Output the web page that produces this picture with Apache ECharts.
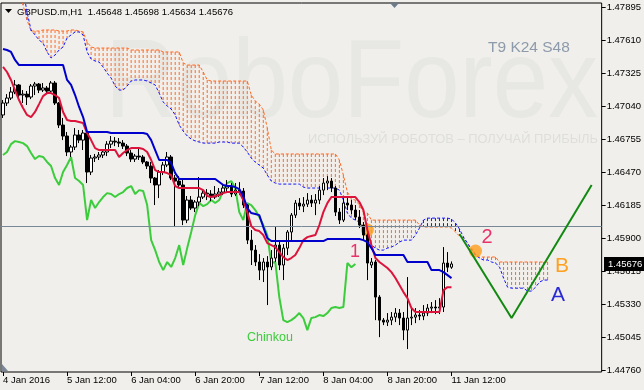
<!DOCTYPE html>
<html><head><meta charset="utf-8">
<script src="https://cdn.jsdelivr.net/npm/echarts@6/dist/echarts.min.js"></script>
<style>html,body{margin:0;padding:0;background:#f0efeb;}#c{width:644px;height:390px;}</style>
</head><body><div id="c"></div>
<script>
// ---- data (GBPUSD.m H1) ----
const xLabels = ['4 Jan 2016','5 Jan 12:00','6 Jan 04:00','6 Jan 20:00','7 Jan 12:00','8 Jan 04:00','8 Jan 20:00','11 Jan 12:00'];
const xLabelStep = 16;
const yTicks = [1.47895,1.47610,1.47325,1.47040,1.46755,1.46470,1.46185,1.45900,1.45615,1.45330,1.45045,1.44760];

const open = [1.46963,1.47066,1.47109,1.47161,1.47222,1.47135,1.47143,1.47118,1.47213,1.47230,
1.47178,1.47196,1.47169,1.47239,1.47066,1.46876,1.46781,1.46643,1.46686,1.46790,
1.46746,1.46807,1.46470,1.46591,1.46600,1.46617,1.46643,1.46711,1.46737,1.46729,
1.46720,1.46694,1.46634,1.46582,1.46608,1.46600,1.46557,1.46522,1.46418,1.46358,
1.46470,1.46531,1.46600,1.46418,1.46392,1.46358,1.46055,1.46228,1.46159,1.46211,
1.46254,1.46288,1.46280,1.46254,1.46280,1.46297,1.46332,1.46349,1.46280,1.46314,
1.46306,1.46185,1.45882,1.45796,1.45693,1.45623,1.45693,1.45650,1.45727,1.45839,
1.45667,1.45813,1.45952,1.46098,1.46202,1.46176,1.46193,1.46228,1.46202,1.46228,
1.46314,1.46375,1.46392,1.46332,1.46124,1.46055,1.46202,1.46185,1.46142,1.46081,
1.46012,1.45926,1.45667,1.45693,1.45390,1.45191,1.45174,1.45191,1.45217,1.45252,
1.45209,1.45105,1.45209,1.45217,1.45235,1.45226,1.45252,1.45295,1.45304,1.45296,
1.45304,1.45684,1.45648];
const close = [1.47066,1.47109,1.47161,1.47222,1.47135,1.47143,1.47118,1.47213,1.47230,1.47178,
1.47196,1.47169,1.47239,1.47066,1.46876,1.46781,1.46643,1.46686,1.46790,1.46746,
1.46807,1.46470,1.46591,1.46600,1.46617,1.46643,1.46711,1.46737,1.46729,1.46720,
1.46694,1.46634,1.46582,1.46608,1.46600,1.46557,1.46522,1.46418,1.46358,1.46470,
1.46531,1.46600,1.46418,1.46392,1.46358,1.46055,1.46228,1.46159,1.46211,1.46254,
1.46288,1.46280,1.46254,1.46280,1.46297,1.46332,1.46349,1.46280,1.46314,1.46306,
1.46185,1.45882,1.45796,1.45693,1.45623,1.45693,1.45650,1.45727,1.45839,1.45667,
1.45813,1.45952,1.46098,1.46202,1.46176,1.46193,1.46228,1.46202,1.46228,1.46314,
1.46375,1.46392,1.46332,1.46124,1.46055,1.46202,1.46185,1.46142,1.46081,1.46012,
1.45926,1.45684,1.45693,1.45390,1.45191,1.45174,1.45191,1.45217,1.45252,1.45209,
1.45105,1.45209,1.45217,1.45235,1.45226,1.45252,1.45295,1.45304,1.45296,1.45304,
1.45684,1.45648,1.45676];
const high = [1.47092,1.47143,1.47204,1.47265,1.47230,1.47178,1.47170,1.47230,1.47248,1.47239,
1.47239,1.47213,1.47256,1.47256,1.47075,1.46937,1.46816,1.46703,1.46850,1.46833,
1.46833,1.46824,1.46617,1.46626,1.46643,1.46669,1.46737,1.46781,1.46772,1.46764,
1.46746,1.46712,1.46660,1.46626,1.46669,1.46617,1.46565,1.46557,1.46427,1.46487,
1.46557,1.46643,1.46617,1.46444,1.46435,1.46418,1.46263,1.46263,1.46228,1.46427,
1.46314,1.46323,1.46314,1.46349,1.46332,1.46358,1.46401,1.46375,1.46375,1.46383,
1.46332,1.46194,1.45969,1.45839,1.45761,1.45727,1.45744,1.45796,1.45995,1.45882,
1.45848,1.45969,1.46116,1.46228,1.46245,1.46254,1.46288,1.46271,1.46280,1.46349,
1.46418,1.46435,1.46418,1.46349,1.46159,1.46245,1.46245,1.46228,1.46185,1.46142,
1.46038,1.45943,1.45727,1.45710,1.45407,1.45209,1.45252,1.45261,1.45295,1.45287,
1.45261,1.45563,1.45295,1.45295,1.45278,1.45321,1.45330,1.45347,1.45364,1.45381,
1.45822,1.45779,1.45698];
const low = [1.46937,1.47040,1.47092,1.47143,1.47118,1.47066,1.47049,1.47100,1.47135,1.47152,
1.47161,1.47143,1.47152,1.47049,1.46850,1.46746,1.46608,1.46600,1.46660,1.46720,
1.46660,1.46375,1.46444,1.46557,1.46574,1.46591,1.46608,1.46677,1.46694,1.46686,
1.46669,1.46608,1.46557,1.46557,1.46574,1.46539,1.46496,1.46375,1.46185,1.46245,
1.46444,1.46513,1.46401,1.45995,1.46332,1.46012,1.46029,1.46142,1.46124,1.46176,
1.46237,1.46228,1.46219,1.46237,1.46254,1.46271,1.46297,1.46254,1.46263,1.46271,
1.46159,1.45848,1.45667,1.45658,1.45537,1.45520,1.45321,1.45623,1.45693,1.45623,
1.45537,1.45753,1.45882,1.46073,1.46142,1.46124,1.46168,1.46168,1.46098,1.46193,
1.46271,1.46314,1.46297,1.46090,1.46021,1.46038,1.46142,1.46107,1.46055,1.45986,
1.45882,1.45537,1.45641,1.45191,1.45044,1.45148,1.45140,1.45148,1.45174,1.45148,
1.45018,1.44941,1.45148,1.45165,1.45191,1.45191,1.45226,1.45252,1.45243,1.45243,
1.45261,1.45606,1.45634];

const tenkan = [1.47378,1.47334,1.47265,1.47178,1.47092,1.47023,1.46963,1.46945,1.46989,1.47057,
1.47126,1.47152,1.47152,1.47135,1.47109,1.46989,1.46919,1.46911,1.46911,1.46902,
1.46893,1.46807,1.46746,1.46677,1.46660,1.46660,1.46660,1.46660,1.46660,1.46600,
1.46634,1.46660,1.46677,1.46677,1.46677,1.46669,1.46643,1.46574,1.46487,1.46470,
1.46470,1.46461,1.46444,1.46349,1.46332,1.46332,1.46332,1.46332,1.46332,1.46332,
1.46314,1.46263,1.46254,1.46263,1.46271,1.46288,1.46297,1.46297,1.46297,1.46297,
1.46228,1.46124,1.46003,1.45969,1.45960,1.45926,1.45856,1.45839,1.45822,1.45779,
1.45736,1.45710,1.45727,1.45753,1.45813,1.45882,1.45908,1.45917,1.45926,1.46012,
1.46124,1.46202,1.46254,1.46254,1.46254,1.46254,1.46254,1.46254,1.46254,1.46211,
1.46142,1.45969,1.45839,1.45727,1.45693,1.45667,1.45641,1.45606,1.45555,1.45494,
1.45433,1.45381,1.45295,1.45261,1.45261,1.45261,1.45261,1.45261,1.45261,1.45261,
1.45450,1.45476,1.45476];
const kijun = [1.47533,1.47524,1.47507,1.47438,1.47394,1.47394,1.47394,1.47394,1.47394,1.47394,
1.47394,1.47394,1.47394,1.47394,1.47394,1.47394,1.47265,1.47222,1.47135,1.47032,
1.46945,1.46816,1.46816,1.46816,1.46816,1.46816,1.46816,1.46807,1.46807,1.46807,
1.46807,1.46807,1.46807,1.46807,1.46807,1.46807,1.46798,1.46746,1.46660,1.46574,
1.46574,1.46574,1.46548,1.46461,1.46410,1.46410,1.46410,1.46410,1.46410,1.46410,
1.46410,1.46410,1.46410,1.46410,1.46384,1.46358,1.46349,1.46349,1.46340,1.46323,
1.46263,1.46159,1.46116,1.46107,1.46098,1.45995,1.45900,1.45874,1.45874,1.45874,
1.45874,1.45874,1.45874,1.45874,1.45874,1.45874,1.45874,1.45874,1.45874,1.45874,
1.45874,1.45891,1.45891,1.45891,1.45891,1.45891,1.45891,1.45891,1.45891,1.45891,
1.45882,1.45865,1.45813,1.45753,1.45753,1.45753,1.45753,1.45753,1.45753,1.45753,
1.45753,1.45693,1.45693,1.45693,1.45693,1.45693,1.45693,1.45623,1.45623,1.45623,
1.45606,1.45580,1.45554];
const chinkou = [1.46617,1.46643,1.46711,1.46737,1.46729,1.46720,1.46694,1.46634,1.46582,1.46608,
1.46600,1.46557,1.46522,1.46418,1.46358,1.46470,1.46531,1.46600,1.46418,1.46392,
1.46358,1.46055,1.46228,1.46159,1.46211,1.46254,1.46288,1.46280,1.46254,1.46280,
1.46297,1.46332,1.46349,1.46280,1.46314,1.46306,1.46185,1.45882,1.45796,1.45693,
1.45623,1.45693,1.45650,1.45727,1.45839,1.45667,1.45813,1.45952,1.46098,1.46202,
1.46176,1.46193,1.46228,1.46202,1.46228,1.46314,1.46375,1.46392,1.46332,1.46124,
1.46055,1.46202,1.46185,1.46142,1.46081,1.46012,1.45926,1.45684,1.45693,1.45390,
1.45191,1.45174,1.45191,1.45217,1.45252,1.45209,1.45105,1.45209,1.45217,1.45235,
1.45226,1.45252,1.45295,1.45304,1.45296,1.45304,1.45684,1.45648,1.45676];
// Senkou Span B (orange) and Span A (blue), shifted 24 bars forward
const senkouB = [1.48050,1.48050,1.48050,1.48050,1.48050,1.47913,1.47783,1.47688,1.47688,1.47688,
1.47697,1.47697,1.47697,1.47697,1.47688,1.47688,1.47688,1.47697,1.47697,1.47688,
1.47680,1.47593,1.47550,1.47541,1.47541,1.47541,1.47541,1.47541,1.47541,1.47541,
1.47541,1.47541,1.47524,1.47524,1.47524,1.47524,1.47524,1.47524,1.47524,1.47524,
1.47507,1.47507,1.47507,1.47507,1.47507,1.47412,1.47394,1.47394,1.47394,1.47394,
1.47334,1.47265,1.47256,1.47256,1.47256,1.47256,1.47256,1.47256,1.47256,1.47256,
1.47256,1.47256,1.47135,1.47083,1.47057,1.47006,1.46850,1.46660,1.46626,1.46626,
1.46626,1.46626,1.46626,1.46626,1.46626,1.46626,1.46626,1.46626,1.46626,1.46626,
1.46626,1.46626,1.46626,1.46626,1.46574,1.46444,1.46297,1.46237,1.46228,1.46185,
1.46124,1.46116,1.46055,1.46055,1.46055,1.46055,1.46055,1.46055,1.46055,1.46055,
1.46055,1.46055,1.46055,1.46055,1.46012,1.45995,1.45995,1.45995,1.45995,1.45995,
1.45995,1.45995,1.45986,1.45952,1.45917,1.45900,1.45856,1.45813,1.45761,1.45736,
1.45736,1.45736,1.45736,1.45736,1.45693,1.45693,1.45693,1.45693,1.45693,1.45693,
1.45693,1.45693,1.45693,1.45693,1.45693,1.45693,1.45693];
const senkouA = [1.48050,1.48050,1.48050,1.48050,1.48050,1.48050,1.47852,1.47697,1.47654,1.47610,
1.47584,1.47507,1.47455,1.47481,1.47524,1.47550,1.47628,1.47654,1.47680,1.47680,
1.47654,1.47507,1.47446,1.47429,1.47420,1.47377,1.47325,1.47282,1.47213,1.47178,
1.47178,1.47213,1.47256,1.47265,1.47265,1.47265,1.47256,1.47239,1.47222,1.47152,
1.47075,1.47040,1.47014,1.46963,1.46876,1.46824,1.46781,1.46755,1.46738,1.46729,
1.46720,1.46720,1.46720,1.46720,1.46729,1.46729,1.46729,1.46720,1.46720,1.46720,
1.46686,1.46643,1.46591,1.46556,1.46530,1.46504,1.46444,1.46392,1.46375,1.46366,
1.46366,1.46366,1.46366,1.46366,1.46366,1.46340,1.46332,1.46332,1.46332,1.46332,
1.46332,1.46332,1.46332,1.46332,1.46314,1.46228,1.46116,1.46072,1.46055,1.46038,
1.45986,1.45900,1.45839,1.45813,1.45796,1.45796,1.45813,1.45822,1.45839,1.45865,
1.45882,1.45882,1.45882,1.45926,1.45986,1.46055,1.46072,1.46072,1.46072,1.46072,
1.46072,1.46072,1.46064,1.46029,1.45978,1.45908,1.45856,1.45796,1.45753,1.45727,
1.45710,1.45710,1.45693,1.45684,1.45649,1.45554,1.45476,1.45467,1.45467,1.45467,
1.45467,1.45442,1.45442,1.45476,1.45520,1.45537,1.45537];
// forecast zig-zag and marked points
const forecastX = [114, 127, 147];
const forecastY = [1.45935, 1.45209, 1.46358];
const markX = [91, 118];
const markY = [1.45969, 1.45787];
const lastPrice = 1.45676;
const header = 'GBPUSD.m,H1  1.45648 1.45698 1.45634 1.45676';
const slogan = 'ИСПОЛЬЗУЙ РОБОТОВ – ПОЛУЧАЙ ПРИБЫЛЬ';

// ---- chart ----
const N = 150;
const slots = Array.from({length: N}, (_, i) => String(i));
const candles = open.map((o, i) => [o, close[i], low[i], high[i]]);
const forecast = forecastX.map((x, i) => [x, forecastY[i]]);
const marks = markX.map((x, i) => [x, markY[i]]);
const FF = '"Liberation Sans", Arial, sans-serif';
const ORANGE = '#ff6a24', BLUE = '#1414ff';
function measure(t, f) { const c = document.createElement('canvas').getContext('2d'); c.font = f; return c.measureText(t).width; }
const wmFont = '112px ' + FF;
const wmScale = 493 / measure('RoboForex', wmFont);
const sgFont = '13px ' + FF;
const sgScale = 290 / measure(slogan, sgFont);
const showIdx = (i) => i % xLabelStep === 0 && i / xLabelStep < xLabels.length;

// Kumo hatch: vertical segments between the spans (one per bar), broken by nulls
const hatchUp = [], hatchDown = [];
senkouB.forEach((b, i) => {
  const a = senkouA[i];
  const hi = Math.max(a, b), lo = Math.min(a, b);
  const tgt = b >= a ? hatchUp : hatchDown;
  tgt.push([i, hi], [i, lo], [i, null]);
});
function hatchSeries(name, data, color) {
  return {type: 'line', name: name, data: data, symbol: 'none', connectNulls: false, z: 1, silent: true,
    lineStyle: {color: color, width: 1, type: [3, 2]}};
}

const chart = echarts.init(document.getElementById('c'));
chart.setOption({
  animation: false,
  backgroundColor: '#f0efeb',
  grid: {left: 1, right: 42, top: 3, bottom: 18, show: true, borderColor: '#000', borderWidth: 1, backgroundColor: 'transparent'},
  xAxis: {
    type: 'category', data: slots, boundaryGap: true,
    axisLine: {show: false},
    axisTick: {show: true, alignWithLabel: true, interval: (i) => showIdx(i), length: 4, lineStyle: {color: '#000'}},
    axisLabel: {interval: (i) => showIdx(i), formatter: (v, i) => xLabels[i / xLabelStep], align: 'left',
      color: '#000', fontSize: 9.5, fontFamily: FF, margin: 3},
    splitLine: {show: false}
  },
  yAxis: {
    type: 'value', position: 'right', min: 1.44743, max: 1.47930, scale: true,
    axisLine: {show: false},
    axisTick: {show: true, customValues: yTicks, length: 4, lineStyle: {color: '#000'}},
    axisLabel: {customValues: yTicks, formatter: (v) => v.toFixed(5), color: '#000', fontSize: 9.5, fontFamily: FF, margin: 5},
    splitLine: {show: false}
  },
  series: [
    hatchSeries('kumo up', hatchUp, ORANGE),
    hatchSeries('kumo down', hatchDown, BLUE),
    {type: 'line', name: 'Senkou B', data: senkouB, symbol: 'none', z: 2, silent: true,
      lineStyle: {color: ORANGE, width: 1, type: [3, 2]}},
    {type: 'line', name: 'Senkou A', data: senkouA, symbol: 'none', z: 2, silent: true,
      lineStyle: {color: BLUE, width: 1, type: [3, 2]}},
    {type: 'scatter', name: 'marks', data: marks, symbolSize: 13, z: 2, silent: true,
      itemStyle: {color: '#ff9c1a'}},
    {type: 'line', name: 'Chinkou', data: chinkou, symbol: 'none', z: 3, silent: true,
      lineStyle: {color: '#3ccd3c', width: 2}},
    {type: 'candlestick', name: 'GBPUSD', data: candles, barWidth: 3, z: 4, silent: true,
      itemStyle: {color: '#ffffff', color0: '#000000', borderColor: '#000000', borderColor0: '#000000', borderWidth: 1},
      markLine: {silent: true, symbol: 'none', label: {show: false},
        lineStyle: {color: '#778899', width: 1, type: 'solid'}, data: [{yAxis: lastPrice}]}},
    {type: 'line', name: 'Tenkan', data: tenkan, symbol: 'none', z: 5, silent: true,
      lineStyle: {color: '#dc143c', width: 2}},
    {type: 'line', name: 'Kijun', data: kijun, symbol: 'none', z: 5, silent: true,
      lineStyle: {color: '#0000cd', width: 2}},
    {type: 'line', name: 'forecast', data: forecast, symbol: 'none', z: 6, silent: true,
      lineStyle: {color: '#128a12', width: 2}}
  ],
  graphic: {elements: [
    {type: 'text', id: 'wm', x: 105, y: 86, scaleX: wmScale, z: -10, silent: true,
      style: {text: 'RoboForex', font: wmFont, fill: '#e7e7e4', align: 'left', verticalAlign: 'middle'}},
    {type: 'text', id: 'sg', x: 598, y: 139, scaleX: sgScale, z: -10, silent: true,
      style: {text: slogan, font: sgFont, fill: '#dededa', align: 'right', verticalAlign: 'middle'}},
    {type: 'polygon', id: 'tri', shape: {points: [[5, 9], [12, 9], [8.5, 13]]}, style: {fill: '#000'}},
    {type: 'text', id: 'hdr', x: 17, y: 12, style: {text: header, font: '9.5px ' + FF, fill: '#000', verticalAlign: 'middle'}},
    {type: 'text', id: 'tks', x: 488, y: 48, style: {text: 'T9 K24 S48', font: '15.5px ' + FF, fill: '#8c9aab', verticalAlign: 'middle'}},
    {type: 'text', id: 'chk', x: 247, y: 338, style: {text: 'Chinkou', font: '12.5px ' + FF, fill: '#3ccd3c', verticalAlign: 'middle'}},
    {type: 'text', id: 'l1', x: 355, y: 252, z: 10, style: {text: '1', font: '18px ' + FF, fill: '#e8336a', align: 'center', verticalAlign: 'middle'}},
    {type: 'text', id: 'l2', x: 487, y: 237, z: 10, style: {text: '2', font: '20px ' + FF, fill: '#e8336a', align: 'center', verticalAlign: 'middle'}},
    {type: 'text', id: 'lB', x: 562, y: 266, z: 10, style: {text: 'B', font: '21px ' + FF, fill: '#ffa020', align: 'center', verticalAlign: 'middle'}},
    {type: 'text', id: 'lA', x: 558, y: 295, z: 10, style: {text: 'A', font: '21px ' + FF, fill: '#2b2bd6', align: 'center', verticalAlign: 'middle'}},
    {type: 'polygon', id: 'shift', shape: {points: [[390, 3], [399, 3], [394.5, 8]]}, style: {fill: '#6c7a89'}},
    {type: 'polygon', id: 'corner', shape: {points: [[2, 364], [2, 371], [8, 371]]}, style: {fill: '#7a8796'}}
  ]}
});
const py = chart.convertToPixel({yAxisIndex: 0}, lastPrice);
chart.setOption({graphic: {elements: [
  {type: 'rect', id: 'pbox', shape: {x: 604, y: Math.round(py) - 7, width: 40, height: 14}, style: {fill: '#000'}, z: 20},
  {type: 'text', id: 'ptxt', x: 608, y: Math.round(py), z: 21, style: {text: lastPrice.toFixed(5), font: '9.5px ' + FF, fill: '#fff', verticalAlign: 'middle'}}
]}});
</script></body></html>
